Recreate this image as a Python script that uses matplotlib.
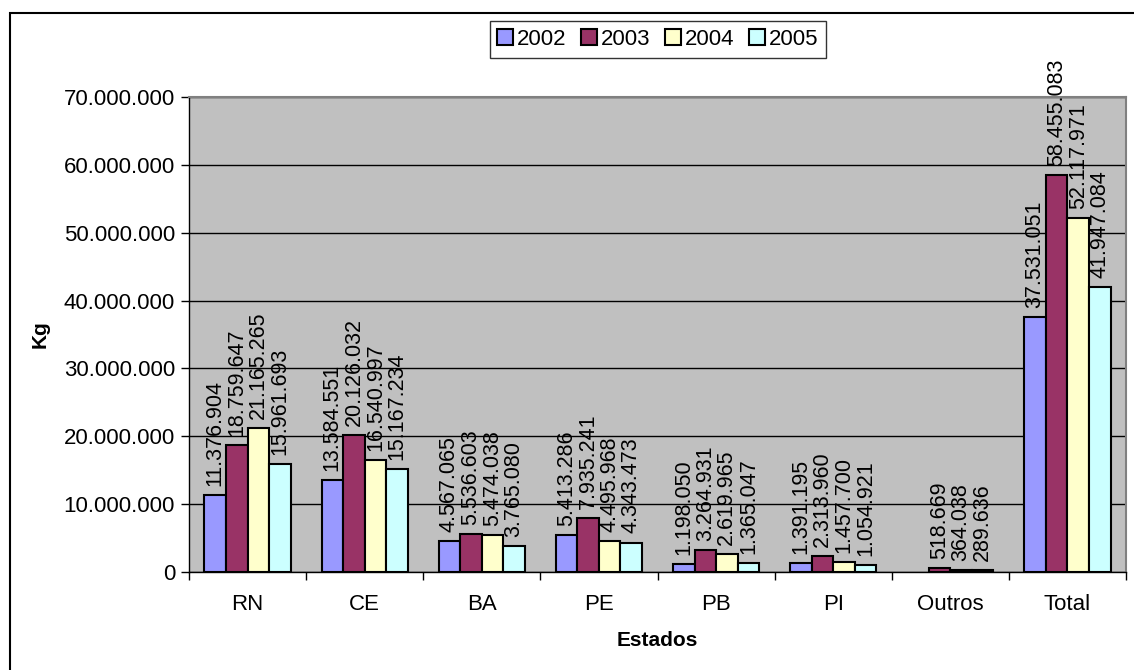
import matplotlib
matplotlib.use("Agg")
import matplotlib.pyplot as plt
import matplotlib.patches as mpatches
from matplotlib.ticker import FuncFormatter, FixedLocator
import numpy as np

plt.rcParams['font.family'] = ['Liberation Sans', 'DejaVu Sans']

estados = ['RN', 'CE', 'BA', 'PE', 'PB', 'PI', 'Outros', 'Total']
anos = ['2002', '2003', '2004', '2005']
v2002 = [11376904, 13584551, 4567065, 5413286, 1198050, 1391195, None, 37531051]
v2003 = [18759647, 20126032, 5536603, 7935241, 3264931, 2313960, 518669, 58455083]
v2004 = [21165265, 16540997, 5474038, 4495968, 2619965, 1457700, 364038, 52117971]
v2005 = [15961693, 15167234, 3765080, 4343473, 1365047, 1054921, 289636, 41947084]
series = [v2002, v2003, v2004, v2005]
cores = ['#9999FF', '#993366', '#FFFFCC', '#CCFFFF']


def fmt_br(v, pos=None):
    return f'{int(v):,}'.replace(',', '.')


fig = plt.figure(figsize=(11.34, 6.70), dpi=100)
ax = fig.add_axes([189/1134, 1-572/670, 937/1134, 475/670])
ax.set_facecolor('#C0C0C0')

x = np.arange(len(estados))
w = 0.184
for i, (vals, cor) in enumerate(zip(series, cores)):
    pos = x + (i - 1.5) * w
    for xi, v in zip(pos, vals):
        if v is None:
            continue
        ax.bar(xi, v, width=w, color=cor, edgecolor='black', linewidth=1.5, zorder=3)
        ax.annotate(fmt_br(v), (xi, v), xytext=(0, 6.5), textcoords='offset points',
                    rotation=90, ha='center', va='bottom', fontsize=15.5,
                    annotation_clip=False, zorder=4)

ax.set_xlim(-0.5, len(estados) - 0.5)
ax.set_ylim(0, 70000000)
ax.set_yticks(np.arange(0, 70000001, 10000000))
ax.yaxis.set_major_formatter(FuncFormatter(fmt_br))
ax.grid(axis='y', color='black', linewidth=1, zorder=1)

ax.set_xticks(x)
ax.set_xticklabels(estados)
ax.xaxis.set_minor_locator(FixedLocator(np.arange(-0.5, len(estados), 1.0)))
ax.tick_params(axis='x', which='major', length=0, pad=16, labelsize=16)
ax.tick_params(axis='x', which='minor', length=6, width=1, direction='out')
ax.tick_params(axis='y', length=6, width=1, direction='out', labelsize=16, pad=4)

for s in ['top', 'right']:
    ax.spines[s].set_color('#808080')
    ax.spines[s].set_linewidth(1.5)
for s in ['left', 'bottom']:
    ax.spines[s].set_color('black')
    ax.spines[s].set_linewidth(1)

ax.set_xlabel('Estados', fontsize=15, fontweight='bold', labelpad=11)
ax.set_ylabel('Kg', fontsize=15, fontweight='bold', labelpad=10)

handles = [mpatches.Patch(facecolor=c, edgecolor='black', linewidth=1.5) for c in cores]
fig.legend(handles, anos, loc='center', bbox_to_anchor=(658/1134, 1-39.5/670),
           ncol=4, fontsize=16, frameon=True, fancybox=False, edgecolor='black',
           handlelength=0.7, handleheight=0.7, handletextpad=0.2, columnspacing=0.65,
           borderpad=0.35, borderaxespad=0)

# moldura externa do grafico
moldura = mpatches.Rectangle((10/1134, -0.2), 1.5, 1.2 - 13/670, transform=fig.transFigure,
                             fill=False, edgecolor='black', linewidth=1.5)
fig.patches.append(moldura)

fig.savefig('out.png', dpi=100)
